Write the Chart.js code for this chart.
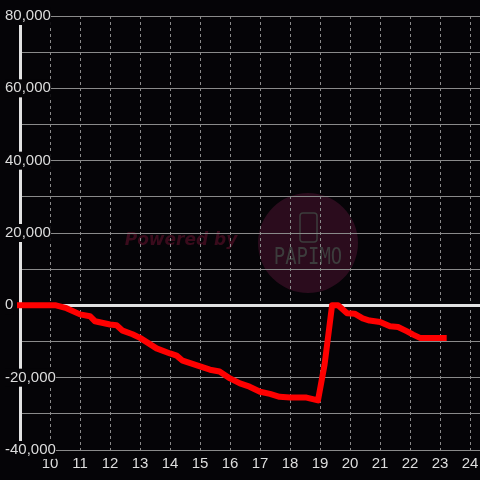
<!DOCTYPE html>
<html>
<head>
<meta charset="utf-8">
<script src="https://cdn.jsdelivr.net/npm/chart.js@4/dist/chart.umd.min.js"></script>
<style>
  html, body { margin: 0; padding: 0; background: #050407; }
  #wrap { width: 480px; height: 480px; }
</style>
</head>
<body>
<div id="wrap"><canvas id="profitChart"></canvas></div>
<script>
// hour of day (x) and running balance (y)
const hours = [8.9, 10.0, 10.2, 10.55, 11.0, 11.33, 11.5, 12.0, 12.22, 12.42, 12.75, 13.0, 13.25, 13.55,
  14.0, 14.22, 14.42, 15.0, 15.33, 15.65, 16.0, 16.33, 16.65, 17.0, 17.33, 17.65, 18.0, 18.55, 18.93,
  19.15, 19.4, 19.6, 19.9, 20.15, 20.42, 20.65, 21.0, 21.33, 21.6, 21.9, 22.1, 22.33, 23.22];
const balance = [0, 0, 0, -800, -2500, -3000, -4400, -5300, -5500, -7000, -8000, -9000, -10300, -11900,
  -13300, -13900, -15300, -16900, -17800, -18300, -20200, -21600, -22500, -23900, -24500, -25300, -25500, -25500, -26300,
  -16400, 0, 0, -2200, -2300, -3600, -4200, -4600, -5800, -6000, -7200, -8100, -9000, -9000];
const hourTicks = [10, 11, 12, 13, 14, 15, 16, 17, 18, 19, 20, 21, 22, 23, 24];
const yLabels = [80000, 60000, 40000, 20000, 0, -20000, -40000];

const points = hours.map((h, i) => ({ x: h, y: balance[i] }));

// dark background + faint "Powered by PAPIMO" watermark
const backdrop = {
  id: "backdrop",
  beforeDraw(chart) {
    const c = chart.ctx;
    c.save();
    c.fillStyle = "#050407";
    c.fillRect(0, 0, chart.width, chart.height);

    c.fillStyle = "#2b0c1d";
    c.beginPath();
    c.arc(308, 243, 50, 0, Math.PI * 2);
    c.fill();

    c.strokeStyle = "#3c3c3c";
    c.lineWidth = 1.5;
    c.beginPath();
    c.roundRect(300, 213, 17, 29, 3);
    c.stroke();

    c.save();
    c.translate(308, 258);
    c.scale(1.05, 1.25);
    c.fillStyle = "#3c3c3c";
    c.font = "18px 'DejaVu Sans Mono'";
    c.textAlign = "center";
    c.textBaseline = "middle";
    c.fillText("PAPIMO", 0, 0);
    c.restore();

    c.fillStyle = "#3a0b1c";
    c.font = "italic bold 17px 'DejaVu Sans'";
    c.textAlign = "center";
    c.textBaseline = "middle";
    c.fillText("Powered by", 181, 241);
    c.restore();
  }
};

const isZero = (ctx) => ctx.tick && Math.round(ctx.tick.value) === 0;

new Chart(document.getElementById("profitChart"), {
  type: "line",
  data: {
    datasets: [{
      data: points,
      borderColor: "#ff0000",
      borderWidth: 6,
      borderJoinStyle: "round",
      pointRadius: 0,
      tension: 0,
      fill: false,
      clip: false
    }]
  },
  options: {
    responsive: true,
    maintainAspectRatio: false,
    animation: false,
    layout: { padding: { top: 16, right: 0, bottom: 2, left: 0 } },
    plugins: {
      legend: { display: false },
      tooltip: { enabled: false }
    },
    scales: {
      x: {
        type: "linear",
        min: 9,
        max: 24.33,
        afterFit: (scale) => { scale.paddingLeft = 0; scale.paddingRight = 0; },
        border: { display: false, dash: [3, 3] },
        grid: {
          color: "#8a8a8a",
          lineWidth: 1,
          drawTicks: false
        },
        ticks: {
          stepSize: 1,
          includeBounds: false,
          maxRotation: 0,
          padding: 5,
          color: "#dddddd",
          font: { family: "'Liberation Sans'", size: 15 },
          callback: (v) => hourTicks.includes(Math.round(v)) && Math.abs(v - Math.round(v)) < 1e-6 ? String(Math.round(v)) : ""
        }
      },
      y: {
        min: -40000,
        max: 80000,
        afterFit: (scale) => { scale.width = 20; scale.paddingTop = 0; scale.paddingBottom = 0; },
        border: { color: "#e2e2e2", width: 3 },
        grid: {
          drawTicks: false,
          color: (ctx) => isZero(ctx) ? "#e2e2e2" : "#8a8a8a",
          lineWidth: (ctx) => isZero(ctx) ? 3 : 1
        },
        ticks: {
          stepSize: 10000,
          mirror: true,
          crossAlign: "near",
          padding: -15,
          color: "#dddddd",
          font: { family: "'Liberation Sans'", size: 15 },
          showLabelBackdrop: true,
          backdropColor: "#050407",
          backdropPadding: 0,
          callback: (v) => {
            const r = Math.round(v);
            return yLabels.includes(r) ? r.toLocaleString("en-US") : "";
          }
        }
      }
    }
  },
  plugins: [backdrop]
});
</script>
</body>
</html>
